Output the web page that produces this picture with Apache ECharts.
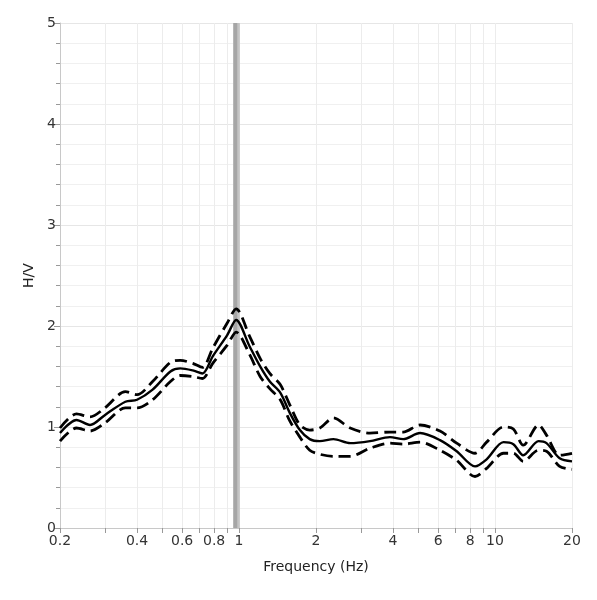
<!DOCTYPE html>
<html>
<head>
<meta charset="utf-8">
<script src="https://cdn.jsdelivr.net/npm/echarts@6/dist/echarts.min.js"></script>
<style>html,body{margin:0;padding:0;background:#fff}#c{width:597px;height:600px}</style>
</head>
<body>
<div id="c"></div>
<script>
const freq  = [0.2, 0.232, 0.262, 0.30, 0.36, 0.40, 0.46, 0.54, 0.59, 0.66, 0.72, 0.79, 0.90, 0.975, 1.10, 1.21, 1.32, 1.45, 1.58, 1.73, 1.89, 2.07, 2.34, 2.72, 3.25, 3.89, 4.38, 5.10, 6.10, 7.09, 8.36, 9.28, 10.8, 11.8, 12.9, 14.8, 15.9, 17.9, 20];
const hvMean  = [0.94, 1.07, 1.02, 1.12, 1.25, 1.27, 1.37, 1.55, 1.58, 1.56, 1.53, 1.70, 1.91, 2.06, 1.80, 1.60, 1.45, 1.34, 1.14, 0.97, 0.88, 0.86, 0.88, 0.84, 0.86, 0.90, 0.88, 0.94, 0.87, 0.76, 0.61, 0.68, 0.85, 0.83, 0.72, 0.86, 0.84, 0.69, 0.66];
const hvUpper = [0.99, 1.13, 1.10, 1.19, 1.35, 1.32, 1.45, 1.64, 1.66, 1.63, 1.59, 1.78, 2.03, 2.17, 1.90, 1.68, 1.53, 1.42, 1.22, 1.02, 0.97, 0.99, 1.09, 0.99, 0.94, 0.95, 0.95, 1.02, 0.96, 0.84, 0.74, 0.85, 1.00, 0.98, 0.82, 1.02, 0.92, 0.72, 0.74];
const hvLower = [0.86, 0.99, 0.96, 1.04, 1.19, 1.19, 1.27, 1.45, 1.51, 1.50, 1.48, 1.63, 1.81, 1.94, 1.72, 1.50, 1.38, 1.27, 1.06, 0.90, 0.77, 0.73, 0.71, 0.71, 0.79, 0.84, 0.83, 0.85, 0.77, 0.67, 0.51, 0.59, 0.74, 0.74, 0.66, 0.77, 0.76, 0.61, 0.58];
const peakBand = [0.951, 1.008];
const peakCore = [0.951, 0.985];
const xTickValues  = [0.2,0.3,0.4,0.5,0.6,0.7,0.8,0.9,1,2,3,4,5,6,7,8,9,10,20];
const xLabelValues = [0.2,0.4,0.6,0.8,1,2,4,6,8,10,20];
const yTicks = [0,1,2,3,4,5];

const font = 'DejaVu Sans';
const pair = a => freq.map((f,i)=>[f,a[i]]);
const chart = echarts.init(document.getElementById('c'), null, {renderer:'canvas'});
chart.setOption({
  animation:false,
  backgroundColor:'#fff',
  grid:{left:60,right:25,top:23,bottom:72,containLabel:false},
  xAxis:{
    type:'log', logBase:10, min:0.2, max:20,
    name:'Frequency (Hz)', nameLocation:'middle', nameGap:32,
    nameTextStyle:{fontFamily:font,fontSize:14,color:'#222'},
    axisLine:{show:true,lineStyle:{color:'#c8c8c8'}},
    axisTick:{show:true,customValues:xTickValues,length:5,lineStyle:{color:'#999'}},
    axisLabel:{customValues:xLabelValues,fontFamily:font,fontSize:14,color:'#333',margin:6,
      formatter:v=>String(Math.round(v*10)/10)},
    splitLine:{show:true,lineStyle:{color:'#ececec',width:1}},
    minorTick:{show:false}, minorSplitLine:{show:false}
  },
  yAxis:{
    type:'value', min:0, max:5, interval:1,
    name:'H/V', nameLocation:'middle', nameGap:17,
    nameTextStyle:{fontFamily:font,fontSize:14,color:'#222'},
    axisLine:{show:true,lineStyle:{color:'#c8c8c8'}},
    axisTick:{show:true,length:6,lineStyle:{color:'#999'}},
    minorTick:{show:true,splitNumber:5,length:4,lineStyle:{color:'#999'}},
    axisLabel:{customValues:yTicks,fontFamily:font,fontSize:14,color:'#333',margin:4},
    splitLine:{show:true,lineStyle:{color:'#e6e6e6'}},
    minorSplitLine:{show:true,lineStyle:{color:'#f0f0f0'}}
  },
  series:[
    {type:'line',name:'band',data:[],silent:true,
     markArea:{silent:true,data:[
       [{xAxis:peakBand[0],itemStyle:{color:'#c4c4c4'}},{xAxis:peakBand[1]}],
       [{xAxis:peakCore[0],itemStyle:{color:'#a6a6a6'}},{xAxis:peakCore[1]}]
     ]}},
    {type:'line',name:'upper',data:pair(hvUpper),smooth:0.3,showSymbol:false,
     lineStyle:{color:'#000',width:2.8,type:[12,6]}},
    {type:'line',name:'lower',data:pair(hvLower),smooth:0.3,showSymbol:false,
     lineStyle:{color:'#000',width:2.8,type:[12,6]}},
    {type:'line',name:'mean',data:pair(hvMean),smooth:0.3,showSymbol:false,
     lineStyle:{color:'#000',width:2.4}}
  ]
});
</script>
</body>
</html>
